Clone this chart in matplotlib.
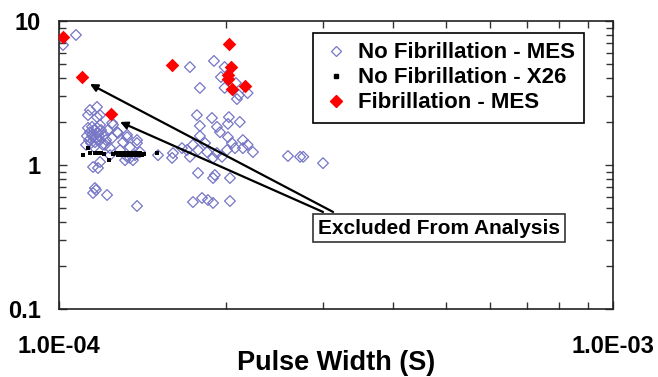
import matplotlib
matplotlib.use('Agg')
import matplotlib.pyplot as plt
from matplotlib.ticker import FixedLocator, NullFormatter, FixedFormatter
from matplotlib.lines import Line2D

plt.rcParams['font.family'] = ['Liberation Sans', 'DejaVu Sans']

# ---- data: pulse width (s) vs. value ----
mes_nofib_pw = [1.017e-4, 1.073e-4, 1.723e-4, 1.904e-4, 1.796e-4, 1.96e-4, 1.99e-4, 1.99e-4,
                2.086e-4, 2.112e-4, 2.095e-4, 2.19e-4,
                1.774e-4, 1.888e-4, 2.026e-4, 2.12e-4, 1.796e-4, 1.928e-4, 2.018e-4, 1.952e-4,
                2.018e-4, 1.796e-4, 2.147e-4, 1.606e-4, 1.702e-4, 1.745e-4, 1.782e-4, 1.85e-4,
                1.928e-4, 2.01e-4, 2.078e-4, 2.147e-4, 2.239e-4, 1.6e-4, 1.723e-4, 1.897e-4,
                1.969e-4, 1.509e-4, 2.59e-4, 2.724e-4, 2.76e-4, 2.996e-4,
                1.782e-4, 1.911e-4, 2.035e-4, 1.897e-4, 1.745e-4, 1.812e-4, 1.857e-4, 1.897e-4,
                2.035e-4, 1.835e-4, 2.052e-4, 2.19e-4, 1.667e-4,
                1.137e-4, 1.171e-4, 1.128e-4, 1.171e-4, 1.147e-4, 1.186e-4, 1.247e-4, 1.252e-4,
                1.278e-4, 1.273e-4, 1.327e-4, 1.327e-4, 1.383e-4, 1.383e-4, 1.247e-4, 1.305e-4,
                1.211e-4, 1.343e-4, 1.327e-4, 1.36e-4, 1.343e-4,
                1.128e-4, 1.137e-4, 1.147e-4, 1.157e-4, 1.166e-4, 1.176e-4, 1.186e-4, 1.133e-4,
                1.142e-4, 1.152e-4, 1.161e-4, 1.171e-4, 1.181e-4, 1.191e-4, 1.2e-4, 1.123e-4,
                1.157e-4, 1.186e-4, 1.206e-4, 1.216e-4, 1.119e-4, 1.226e-4, 1.236e-4,
                1.152e-4, 1.176e-4, 1.186e-4, 1.161e-4, 1.152e-4, 1.221e-4, 1.383e-4, 1.166e-4,
                1.289e-4, 1.4e-4, 1.316e-4, 1.372e-4, 1.236e-4]
mes_nofib_val = [6.81, 8.0, 4.79, 5.28, 3.43, 4.08, 4.79, 3.43,
                 3.71, 3.06, 2.87, 3.16,
                 2.22, 2.12, 2.15, 1.99, 1.87, 1.84, 1.93, 1.69,
                 1.56, 1.59, 1.49, 1.21, 1.27, 1.38, 1.27, 1.23,
                 1.21, 1.27, 1.31, 1.31, 1.23, 1.12, 1.14, 1.12,
                 1.14, 1.17, 1.155, 1.14, 1.14, 1.03,
                 0.88, 0.852, 0.812, 0.812, 0.553, 0.59, 0.571, 0.545,
                 0.562, 1.42, 1.42, 1.38, 1.31,
                 2.41, 2.53, 2.22, 2.15, 1.84, 2.22, 1.96, 1.90,
                 1.67, 1.69, 1.62, 1.56, 1.49, 1.42, 1.54, 1.44,
                 1.38, 1.33, 1.14, 1.08, 1.12,
                 1.81, 1.69, 1.62, 1.75, 1.54, 1.67, 1.49, 1.49,
                 1.42, 1.56, 1.44, 1.81, 1.59, 1.75, 1.38, 1.59,
                 1.33, 1.90, 1.62, 1.49, 1.38, 1.75, 1.31,
                 0.968, 0.953, 1.05, 0.692, 0.639, 0.619, 0.519, 0.67,
                 1.27, 1.23, 1.08, 1.17, 1.17]

x26_nofib_pw = [1.105e-4, 1.128e-4, 1.137e-4, 1.161e-4, 1.176e-4, 1.191e-4, 1.206e-4, 1.231e-4,
                1.252e-4, 1.268e-4, 1.278e-4, 1.288e-4, 1.30e-4, 1.31e-4, 1.32e-4, 1.332e-4,
                1.343e-4, 1.354e-4, 1.366e-4, 1.377e-4, 1.389e-4, 1.40e-4, 1.412e-4, 1.424e-4,
                1.503e-4]
x26_nofib_val = [1.17, 1.31, 1.21, 1.21, 1.21, 1.21, 1.19, 1.08,
                 1.19, 1.21, 1.17, 1.21, 1.17, 1.21, 1.17, 1.21,
                 1.17, 1.21, 1.17, 1.21, 1.17, 1.21, 1.17, 1.19,
                 1.21]

mes_fib_pw = [1.015e-4, 1.099e-4, 1.241e-4, 1.60e-4, 2.024e-4, 2.043e-4, 2.016e-4, 2.018e-4,
              2.05e-4, 2.165e-4]
mes_fib_val = [7.8, 4.06, 2.26, 4.95, 6.95, 4.79, 4.22, 3.96, 3.37, 3.52]

x_tick_vals = [1e-4, 1e-3]
x_tick_labels = ['1.0E-04', '1.0E-03']
y_tick_vals = [0.1, 1, 10]
y_tick_labels = ['0.1', '1', '10']

series_labels = ['No Fibrillation - MES', 'No Fibrillation - X26', 'Fibrillation - MES']

# ---- figure ----
fig = plt.figure(figsize=(6.58, 3.77), dpi=100)
ax = fig.add_axes([59/658, 1 - 309/377, (613-59)/658, (309-21)/377])
ax.set_xscale('log')
ax.set_yscale('log')
ax.set_xlim(1e-4, 1e-3)
ax.set_ylim(0.1, 10)

blue = '#7676c6'
ax.scatter(mes_nofib_pw, mes_nofib_val, marker='D', s=30, facecolors='none',
           edgecolors=blue, linewidths=0.9, zorder=2)
ax.scatter(x26_nofib_pw, x26_nofib_val, marker='s', s=12, color='black', linewidths=0, zorder=3)
ax.scatter(mes_fib_pw, mes_fib_val, marker='D', s=48, color='#ff0000', linewidths=0, zorder=4)

# ticks
ax.xaxis.set_major_locator(FixedLocator(x_tick_vals))
ax.xaxis.set_major_formatter(FixedFormatter(x_tick_labels))
ax.xaxis.set_minor_locator(FixedLocator([k*1e-4 for k in range(2, 10)]))
ax.xaxis.set_minor_formatter(NullFormatter())
ax.yaxis.set_major_locator(FixedLocator(y_tick_vals))
ax.yaxis.set_major_formatter(FixedFormatter(y_tick_labels))
ax.yaxis.set_minor_locator(FixedLocator([k*d for d in (0.1, 1) for k in range(2, 10)]))
ax.yaxis.set_minor_formatter(NullFormatter())
ax.tick_params(which='both', direction='in', top=True, right=True, color='#333333')
ax.tick_params(which='major', length=6, width=1)
ax.tick_params(which='minor', length=5, width=1)
ax.tick_params(axis='x', which='major', pad=19, labelsize=17)
ax.tick_params(axis='y', which='major', pad=13, labelsize=17)
for lab in ax.get_xticklabels() + ax.get_yticklabels():
    lab.set_fontweight('bold')
for sp in ax.spines.values():
    sp.set_linewidth(1.2)
    sp.set_color('#222222')

ax.set_xlabel('Pulse Width (S)', fontsize=19.5, fontweight='bold')
ax.xaxis.set_label_coords(0.5, (309-370)/288)
ax.xaxis.label.set_va('baseline')

# legend
handles = [
    Line2D([], [], marker='D', linestyle='none', markerfacecolor='none',
           markeredgecolor=blue, markersize=5, markeredgewidth=0.9),
    Line2D([], [], marker='s', linestyle='none', color='black', markersize=3.5),
    Line2D([], [], marker='D', linestyle='none', color='#ff0000', markersize=6),
]
leg = ax.legend(handles, series_labels, loc='upper left',
                bbox_to_anchor=((313-59)/554, (309-33)/288), borderaxespad=0,
                frameon=True, fancybox=False, edgecolor='black', framealpha=1,
                prop={'weight': 'bold', 'size': 16}, handlelength=1.2,
                handletextpad=0.4, labelspacing=0.18, borderpad=0.42)
leg.get_frame().set_linewidth(1.2)

# annotation
ax.text((439-59)/554, (309-228)/288, 'Excluded From Analysis', transform=ax.transAxes,
        ha='center', va='center', fontsize=15, fontweight='bold',
        bbox=dict(boxstyle='square,pad=0.22', facecolor='white', edgecolor='#333333', linewidth=1.2),
        zorder=6)
arrow_kw = dict(arrowstyle='-|>', color='black', lw=1.6, mutation_scale=11, shrinkA=0, shrinkB=0)
ax.annotate('', xy=(1.137e-4, 3.65), xytext=(3.124e-4, 0.472), arrowprops=arrow_kw, zorder=5)
ax.annotate('', xy=(1.289e-4, 1.99), xytext=(2.996e-4, 0.472), arrowprops=arrow_kw, zorder=5)

fig.savefig('out.png', dpi=100)
